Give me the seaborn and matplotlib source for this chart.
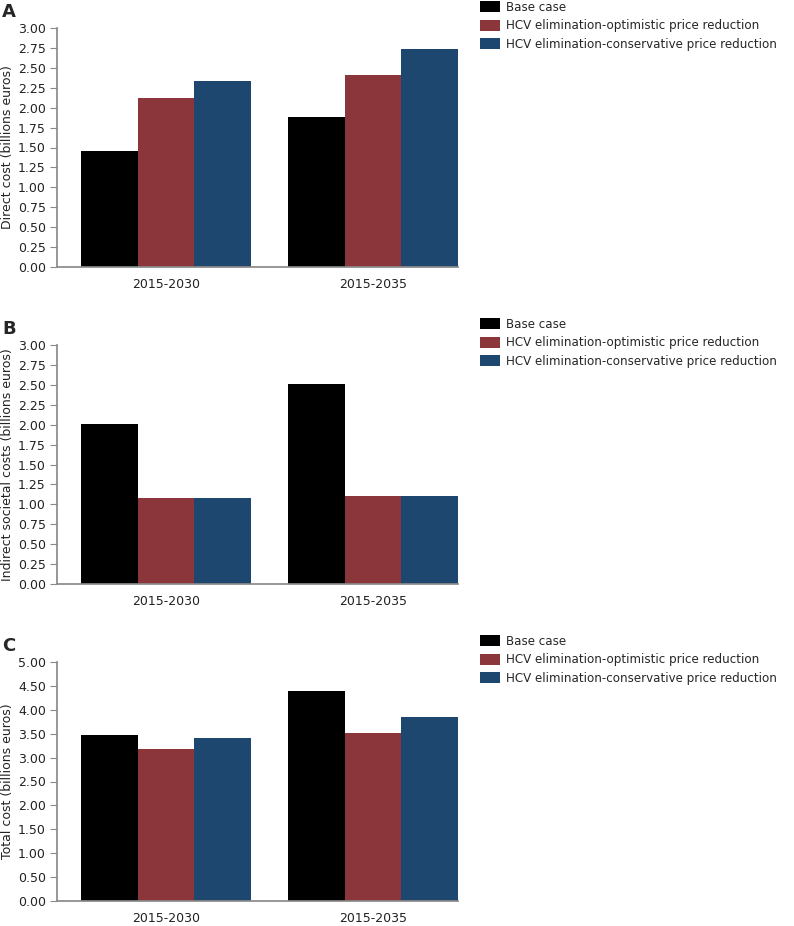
import numpy as np
import pandas as pd
import matplotlib
matplotlib.use("Agg")
import matplotlib.pyplot as plt
from matplotlib.patches import Patch
import seaborn as sns

PERIODS = ["2015-2030", "2015-2035"]
SCENARIOS = [
    "Base case",
    "HCV elimination-optimistic price reduction",
    "HCV elimination-conservative price reduction",
]
COLORS = ["#000000", "#8B363B", "#1E4770"]

# values per scenario, ordered as PERIODS
DIRECT = [[1.46, 1.88], [2.12, 2.41], [2.33, 2.74]]
INDIRECT = [[2.01, 2.51], [1.08, 1.10], [1.08, 1.10]]
TOTAL = [[3.47, 4.40], [3.18, 3.51], [3.41, 3.84]]

PANELS = [
    ("A", DIRECT, "Direct cost (billions euros)", np.arange(0, 3.01, 0.25)),
    ("B", INDIRECT, "Indirect societal costs (billions euros)", np.arange(0, 3.01, 0.25)),
    ("C", TOTAL, "Total cost (billions euros)", np.arange(0, 5.01, 0.5)),
]

sns.set_theme(style="white")
plt.rcParams["font.family"] = ["DejaVu Sans"]
plt.rcParams["axes.edgecolor"] = "#8a8a8a"

fig = plt.figure(figsize=(7.94, 9.26), dpi=100)
W, H = 794, 926

# (top, bottom) of each axes in pixels
boxes = [(28, 267), (345, 584), (662, 901)]
left, right = 57, 458

for (letter, vals, ylabel, ticks), (top, bot) in zip(PANELS, boxes):
    ax = fig.add_axes([left / W, 1 - bot / H, (right - left) / W, (bot - top) / H])
    df = pd.DataFrame(
        [(p, s, vals[i][j]) for i, s in enumerate(SCENARIOS) for j, p in enumerate(PERIODS)],
        columns=["period", "scenario", "value"],
    )
    sns.barplot(data=df, x="period", y="value", hue="scenario",
                hue_order=SCENARIOS, palette=COLORS, width=0.82, gap=0,
                linewidth=0, saturation=1, legend=False, ax=ax)
    ax.set_xlim(-0.527, 1.41)
    ax.set_ylim(0, ticks[-1])
    ax.set_yticks(ticks)
    ax.set_yticklabels([f"{t:.2f}" for t in ticks], fontsize=9, color="#222222")
    ax.tick_params(axis="y", left=True, length=5, width=0.8, color="#8a8a8a", pad=3)
    ax.tick_params(axis="x", bottom=False, labelsize=9, labelcolor="#222222", pad=2)
    ax.set_xlabel("")
    ax.set_ylabel(ylabel, fontsize=9, color="#222222", labelpad=3)
    ax.spines[["top", "right"]].set_visible(False)

    fig.text(2 / W, 1 - (top - 16) / H, letter, fontsize=13, fontweight="bold",
             va="center", ha="left")

    handles = [Patch(facecolor=c, edgecolor="none") for c in COLORS]
    fig.legend(handles, SCENARIOS, loc="upper left",
               bbox_to_anchor=(480 / W, 1 - (top - 27) / H),
               frameon=False, fontsize=8.6, handlelength=1.65, handleheight=1.05,
               handletextpad=0.55, labelspacing=0.45, borderaxespad=0,
               borderpad=0)

fig.savefig("out.png", dpi=100)
